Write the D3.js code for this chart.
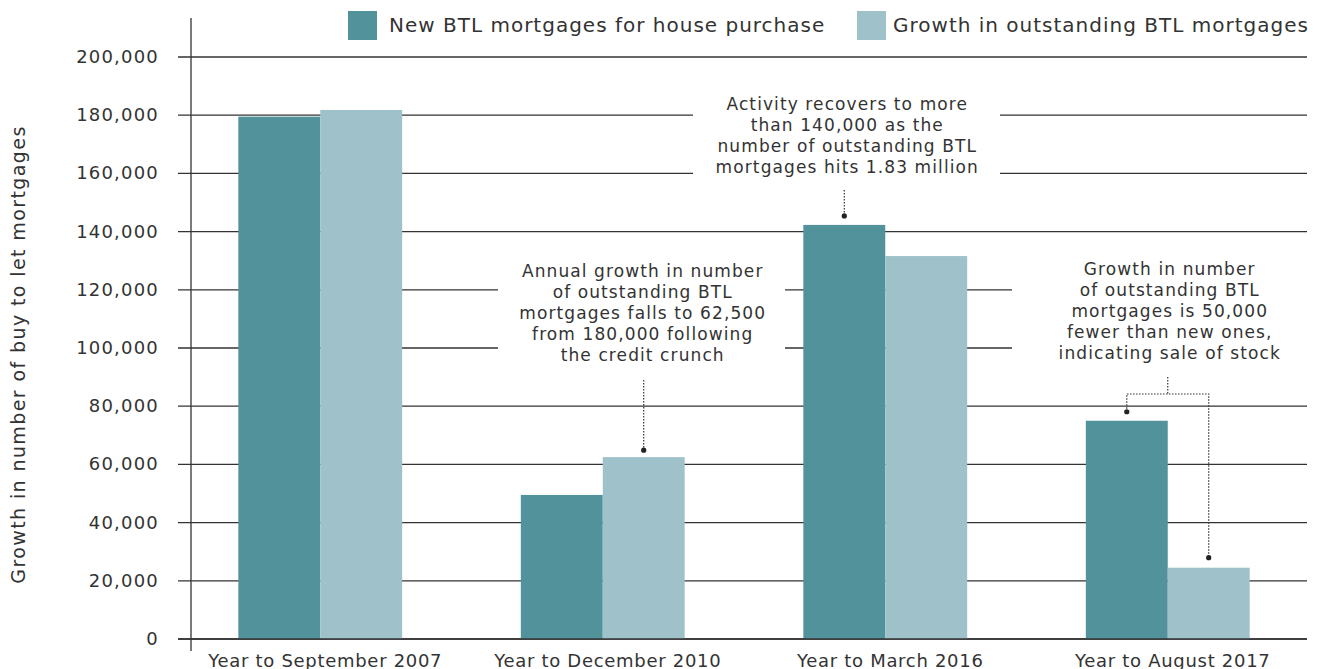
<!DOCTYPE html>
<html>
<head>
<meta charset="utf-8">
<script src="https://d3js.org/d3.v7.min.js"></script>
<style>
    body { margin: 0; background: #fff; }
    text { font-family: "DejaVu Sans", sans-serif; fill: #333; }
</style>
</head>
<body>
<div id="myPlot"></div>
<script>
// chart data
var categories = ["Year to September 2007", "Year to December 2010", "Year to March 2016", "Year to August 2017"];
var seriesNames = ["New BTL mortgages for house purchase", "Growth in outstanding BTL mortgages"];
var newMortgages = [179500, 49500, 142300, 75000];
var outstandingGrowth = [181800, 62500, 131600, 24500];
var yTicks = [0, 20000, 40000, 60000, 80000, 100000, 120000, 140000, 160000, 180000, 200000];
var yTitle = "Growth in number of buy to let mortgages";

// annotation texts
var note2010 = ["Annual growth in number", "of outstanding BTL", "mortgages falls to 62,500", "from 180,000 following", "the credit crunch"];
var note2016 = ["Activity recovers to more", "than 140,000 as the", "number of outstanding BTL", "mortgages hits 1.83 million"];
var note2017 = ["Growth in number", "of outstanding BTL", "mortgages is 50,000", "fewer than new ones,", "indicating sale of stock"];

var colors = ["#52939b", "#9fc2ca"];

// Define SVG area dimensions
var svgWidth = 1321;
var svgHeight = 669;

var margin = { top: 57, right: 14, bottom: 30, left: 191 };

var svg = d3.select("#myPlot")
    .append("svg")
    .attr("width", svgWidth)
    .attr("height", svgHeight);

// scales
var yScale = d3.scaleLinear()
    .domain([0, 200000])
    .range([svgHeight - margin.bottom, margin.top]);

var x0 = d3.scaleBand()
    .domain(categories)
    .range([179, 1309])
    .paddingInner(0.42)
    .paddingOuter(0.21);

var x1 = d3.scaleBand()
    .domain([0, 1])
    .range([0, x0.bandwidth()]);

var fmt = d3.format(",");

// gridlines + tick labels
var grid = svg.append("g");
grid.selectAll("line")
    .data(yTicks)
    .enter().append("line")
    .attr("x1", margin.left - 13)
    .attr("x2", svgWidth - margin.right)
    .attr("y1", d => yScale(d))
    .attr("y2", d => yScale(d))
    .attr("stroke", "#333")
    .attr("stroke-width", 1.3);

grid.selectAll("text")
    .data(yTicks)
    .enter().append("text")
    .attr("x", 159)
    .attr("y", d => yScale(d) + 6)
    .attr("text-anchor", "end")
    .style("font-size", "18px")
    .style("letter-spacing", "1.2px")
    .text(d => fmt(d));

// vertical axis line
svg.append("line")
    .attr("x1", margin.left)
    .attr("x2", margin.left)
    .attr("y1", 18)
    .attr("y2", yScale(0) + 12)
    .attr("stroke", "#333")
    .attr("stroke-width", 1.3);

// y title
svg.append("text")
    .attr("transform", `translate(25, ${(yScale(0) + 70) / 2}) rotate(-90)`)
    .attr("text-anchor", "middle")
    .style("font-size", "19px")
    .style("letter-spacing", "1.4px")
    .text(yTitle);

// annotation text boxes (white box breaks the gridlines)
function drawNote(lines, cx, firstY, boxX0, boxX1) {
    var lh = 21;
    svg.append("rect")
        .attr("x", boxX0)
        .attr("y", firstY - 19)
        .attr("width", boxX1 - boxX0)
        .attr("height", lines.length * lh + 8)
        .attr("fill", "#fff");
    var t = svg.append("text")
        .attr("text-anchor", "middle")
        .style("font-size", "17px")
        .style("letter-spacing", "1.1px");
    lines.forEach(function (l, i) {
        t.append("tspan")
            .attr("x", cx)
            .attr("y", firstY + i * lh)
            .text(l);
    });
}

function barCenter(i, s) {
    return x0(categories[i]) + x1(s) + x1.bandwidth() / 2;
}

drawNote(note2010, barCenter(1, 1) - 1, 277, 498, 785);
drawNote(note2016, barCenter(2, 0) + 3, 110, 693, 1000);
drawNote(note2017, x0(categories[3]) + x0.bandwidth() / 2 + 2, 275, 1012, 1310);

// bars
var groups = svg.selectAll(".grp")
    .data(categories)
    .enter().append("g")
    .attr("class", "grp")
    .attr("transform", d => `translate(${x0(d)}, 0)`);

groups.selectAll("rect")
    .data((d, i) => [newMortgages[i], outstandingGrowth[i]])
    .enter().append("rect")
    .attr("x", (d, s) => x1(s))
    .attr("y", d => yScale(d))
    .attr("width", x1.bandwidth())
    .attr("height", d => yScale(0) - yScale(d))
    .attr("fill", (d, s) => colors[s]);

// baseline over the bars
svg.append("line")
    .attr("x1", margin.left - 13)
    .attr("x2", svgWidth - margin.right)
    .attr("y1", yScale(0))
    .attr("y2", yScale(0))
    .attr("stroke", "#333")
    .attr("stroke-width", 1.3);

// category labels
svg.selectAll(".xlab")
    .data(categories)
    .enter().append("text")
    .attr("class", "xlab")
    .attr("x", d => x0(d) + x0.bandwidth() / 2 + 5)
    .attr("y", 667)
    .attr("text-anchor", "middle")
    .style("font-size", "18px")
    .style("letter-spacing", "0.7px")
    .text(d => d);

// dotted pointers
function dotted(pts) {
    svg.append("path")
        .attr("d", d3.line()(pts))
        .attr("fill", "none")
        .attr("stroke", "#333")
        .attr("stroke-width", 1.2)
        .attr("stroke-dasharray", "1.5,1.5");
}
function dot(x, y) {
    svg.append("circle").attr("cx", x).attr("cy", y).attr("r", 2.6).attr("fill", "#222");
}

var ax = barCenter(1, 1);
dotted([[ax, 380], [ax, yScale(outstandingGrowth[1]) - 7]]);
dot(ax, yScale(outstandingGrowth[1]) - 7);

var bx = barCenter(2, 0);
dotted([[bx, 190], [bx, yScale(newMortgages[2]) - 9]]);
dot(bx, yScale(newMortgages[2]) - 9);

var cl = barCenter(3, 0), cr = barCenter(3, 1), cm = (cl + cr) / 2;
dotted([[cm, 377], [cm, 394]]);
dotted([[cl, yScale(newMortgages[3]) - 9], [cl, 394], [cr, 394], [cr, yScale(outstandingGrowth[3]) - 10]]);
dot(cl, yScale(newMortgages[3]) - 9);
dot(cr, yScale(outstandingGrowth[3]) - 10);

// legend
var legend = svg.append("g");
var legendX = [348, 857];
var legendTextX = [389, 893];
seriesNames.forEach(function (name, i) {
    legend.append("rect")
        .attr("x", legendX[i])
        .attr("y", 11)
        .attr("width", 29)
        .attr("height", 29)
        .attr("fill", colors[i]);
    legend.append("text")
        .attr("x", legendTextX[i])
        .attr("y", 32)
        .style("font-size", "20px")
        .style("letter-spacing", "1px")
        .text(name);
});
</script>
</body>
</html>
